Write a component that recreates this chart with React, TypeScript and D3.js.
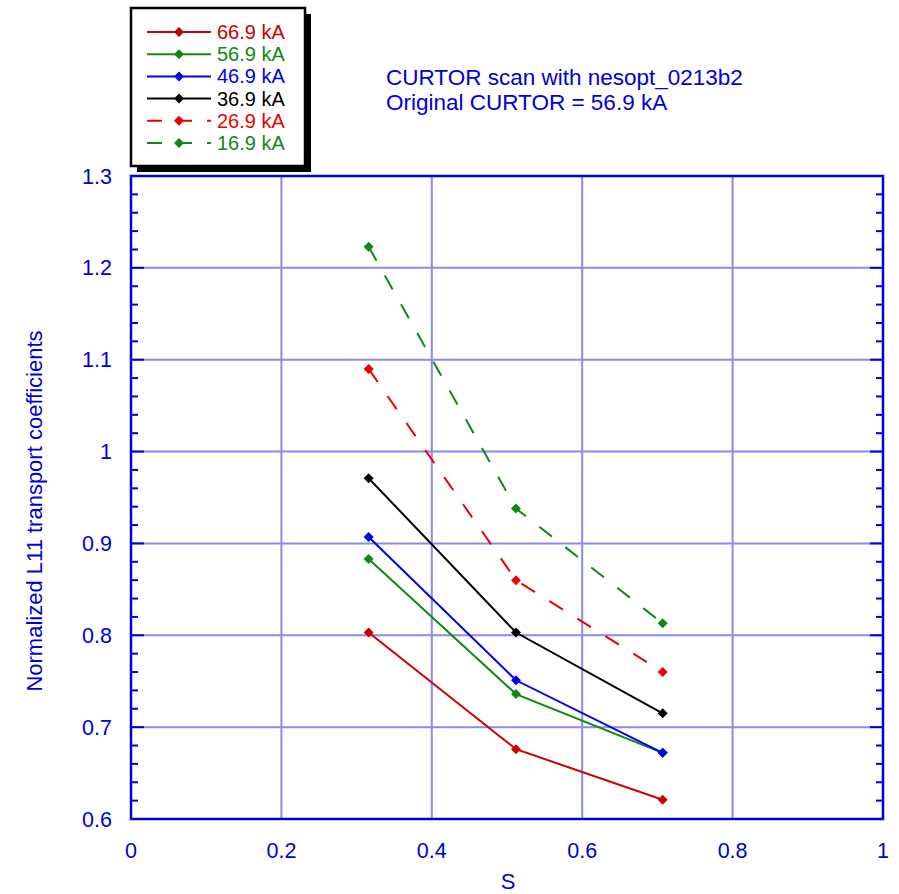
import React from "react";
import * as d3 from "d3";

const sValues = [0.316, 0.512, 0.707];
const seriesNames = ["66.9 kA", "56.9 kA", "46.9 kA", "36.9 kA", "26.9 kA", "16.9 kA"];
const series669 = [0.803, 0.676, 0.621];
const series569 = [0.883, 0.736, 0.672];
const series469 = [0.907, 0.751, 0.672];
const series369 = [0.971, 0.803, 0.715];
const series269 = [1.090, 0.860, 0.760];
const series169 = [1.223, 0.938, 0.813];
const seriesColors = ["#cc0000", "#118811", "#0000ee", "#000000", "#ee0000", "#118811"];
const seriesDashed = [false, false, false, false, true, true];
const xTicks = [0, 0.2, 0.4, 0.6, 0.8, 1];
const xTickLabels = ["0", "0.2", "0.4", "0.6", "0.8", "1"];
const yTicks = [0.6, 0.7, 0.8, 0.9, 1.0, 1.1, 1.2, 1.3];
const yTickLabels = ["0.6", "0.7", "0.8", "0.9", "1", "1.1", "1.2", "1.3"];
const titleLines = ["CURTOR scan with nesopt_0213b2", "Original CURTOR = 56.9 kA"];

const allSeries = [series669, series569, series469, series369, series269, series169];

const FONT = "'Liberation Sans', Arial, Helvetica, sans-serif";
const AXIS = "#0000dd";
const GRID = "#8a8af0";

export default function App() {
  const W = 899, H = 894;
  const x = d3.scaleLinear().domain([0, 1]).range([131, 883]);
  const y = d3.scaleLinear().domain([0.6, 1.3]).range([819, 176]);
  const line = d3.line<number>().x((_, i) => x(sValues[i])).y((d) => y(d));
  const minorTicks = d3.range(0.6, 1.3001, 0.02).filter((v) => Math.abs(v * 10 - Math.round(v * 10)) > 1e-6);
  const diamond = (cx: number, cy: number, r: number) =>
    `M${cx},${cy - r}L${cx + r},${cy}L${cx},${cy + r}L${cx - r},${cy}Z`;

  const legX0 = 131, legY0 = 8, legW = 174, legH = 158;
  const rowY = (i: number) => 32 + i * 22.2;

  return (
    <svg width={W} height={H} style={{ position: "absolute", left: 0, top: 0, background: "#fff" }} fontFamily={FONT}>
      <rect x={0} y={0} width={W} height={H} fill="#fff" />
      {/* grid */}
      {xTicks.slice(1, -1).map((t) => (
        <line key={"gx" + t} x1={x(t)} x2={x(t)} y1={y(1.3)} y2={y(0.6)} stroke={GRID} strokeWidth={2} />
      ))}
      {yTicks.slice(1, -1).map((t) => (
        <line key={"gy" + t} x1={x(0)} x2={x(1)} y1={y(t)} y2={y(t)} stroke={GRID} strokeWidth={2} />
      ))}
      {/* ticks */}
      {yTicks.map((t) => (
        <g key={"mt" + t}>
          <line x1={x(0)} x2={x(0) + 13} y1={y(t)} y2={y(t)} stroke={AXIS} strokeWidth={2} />
          <line x1={x(1)} x2={x(1) - 13} y1={y(t)} y2={y(t)} stroke={AXIS} strokeWidth={2} />
        </g>
      ))}
      {minorTicks.map((t) => (
        <g key={"mn" + t}>
          <line x1={x(0)} x2={x(0) + 7} y1={y(t)} y2={y(t)} stroke={AXIS} strokeWidth={2} />
          <line x1={x(1)} x2={x(1) - 7} y1={y(t)} y2={y(t)} stroke={AXIS} strokeWidth={2} />
        </g>
      ))}
      {/* frame */}
      <rect x={x(0)} y={y(1.3)} width={x(1) - x(0)} height={y(0.6) - y(1.3)} fill="none" stroke={AXIS} strokeWidth={2.5} />
      {/* tick labels */}
      {yTicks.map((t, i) => (
        <text key={"yl" + t} x={112} y={y(t) + 7.5} textAnchor="end" fontSize={21.5} fill={AXIS}>
          {yTickLabels[i]}
        </text>
      ))}
      {xTicks.map((t, i) => (
        <text key={"xl" + t} x={x(t)} y={858} textAnchor="middle" fontSize={21.5} fill={AXIS}>
          {xTickLabels[i]}
        </text>
      ))}
      {/* axis titles */}
      <text x={508} y={889} textAnchor="middle" fontSize={22} fill={AXIS}>S</text>
      <text transform={`translate(42,511) rotate(-90)`} textAnchor="middle" fontSize={22} fill={AXIS}>
        Normalized L11 transport coefficients
      </text>
      {/* title */}
      {titleLines.map((s, i) => (
        <text key={"t" + i} x={386} y={85 + i * 25} fontSize={22.5} fill={AXIS}>{s}</text>
      ))}
      {/* series */}
      {allSeries.map((vals, si) => (
        <g key={"s" + si}>
          <path d={line(vals) || ""} fill="none" stroke={seriesColors[si]} strokeWidth={2}
            strokeDasharray={seriesDashed[si] ? "16,17" : undefined} />
          {vals.map((v, j) => (
            <path key={j} d={diamond(x(sValues[j]), y(v), 5)} fill={seriesColors[si]} />
          ))}
        </g>
      ))}
      {/* legend */}
      <rect x={legX0 + 6} y={legY0 + 6} width={legW} height={legH} fill="#000" />
      <rect x={legX0} y={legY0} width={legW} height={legH} fill="#fff" stroke="#000" strokeWidth={2.5} />
      {seriesNames.map((name, i) => (
        <g key={"l" + i}>
          <line x1={147} x2={211} y1={rowY(i)} y2={rowY(i)} stroke={seriesColors[i]} strokeWidth={2}
            strokeDasharray={seriesDashed[i] ? "15,13,17,15" : undefined} />
          <path d={diamond(179, rowY(i), 5)} fill={seriesColors[i]} />
          <text x={217} y={rowY(i) + 7} fontSize={20} fill={seriesColors[i]}>{name}</text>
        </g>
      ))}
    </svg>
  );
}
